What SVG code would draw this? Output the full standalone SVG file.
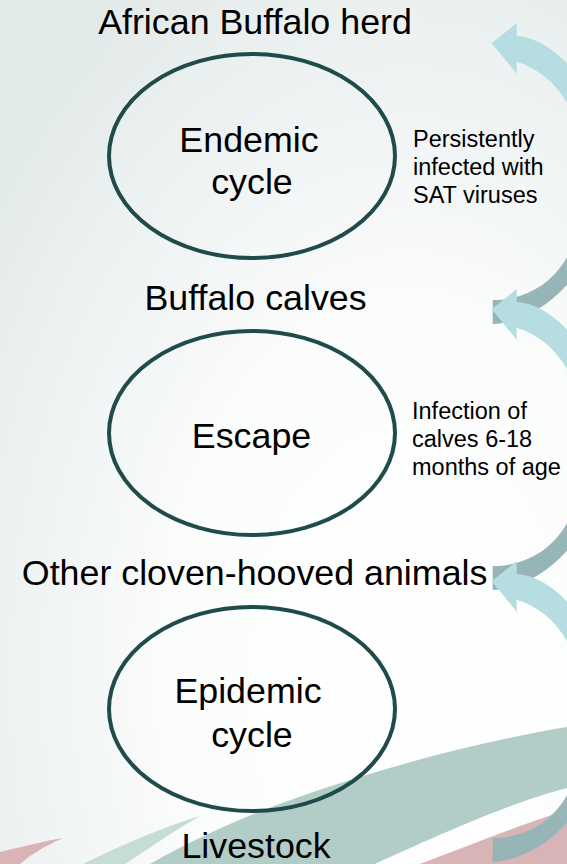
<svg xmlns="http://www.w3.org/2000/svg" width="567" height="864" viewBox="0 0 567 864">
  <defs>
    <radialGradient id="bg" cx="0.72" cy="0.78" r="0.95" fx="0.72" fy="0.78">
      <stop offset="0" stop-color="#ffffff"/>
      <stop offset="0.45" stop-color="#fbfcfc"/>
      <stop offset="1" stop-color="#e2e9e9"/>
    </radialGradient>
    <linearGradient id="arrowGrad" gradientUnits="userSpaceOnUse" x1="0" y1="24" x2="0" y2="324">
      <stop offset="0" stop-color="#b6dee2"/>
      <stop offset="0.45" stop-color="#b6dee2"/>
      <stop offset="0.75" stop-color="#98b7b9"/>
      <stop offset="1" stop-color="#96b4b6"/>
    </linearGradient>
    <path id="curvedArrow" d="M491.7,43.3 L516.7,23 L516.7,36 C560,38 614,105 608,180 C600,280 535,322 492.7,324 L492.7,300 C545,300 585,260 585,178 C585,120 560,75 516.7,61.7 L516.7,73.7 Z"/>
  </defs>
  <style>
    .big { font-family: "Liberation Sans", Arial, sans-serif; font-size: 35.8px; fill: #000; text-anchor: middle; }
    .small { font-family: "Liberation Sans", Arial, sans-serif; font-size: 23.5px; fill: #000; }
    .cycleShape { fill: none; stroke: #1f4b4b; stroke-width: 4; }
    .arrow { fill: url(#arrowGrad); }
  </style>

  <!-- background -->
  <rect x="0" y="0" width="567" height="864" fill="url(#bg)"/>

  <!-- decorative swooshes -->
  <g id="swooshes">
    <path d="M0,852 C25,846 45,841 63,838 C45,846 30,855 20,864 L0,864 Z" fill="#d8b4b7"/>
    <path d="M83,864 C120,846 160,828 200,816 C175,830 150,848 125,864 Z" fill="#c6dcd7"/>
    <path d="M150,864 C210,830 270,805 350,780 C420,758 490,740 567,727 L567,788 C520,800 460,825 375,864 Z" fill="#b2cdc8"/>
    <path d="M420,864 C470,845 520,825 567,810 L567,864 Z" fill="#d8b4b7"/>
  </g>

  <!-- connectors: curved arrows -->
  <g id="connectors">
    <use href="#curvedArrow" class="arrow"/>
    <use href="#curvedArrow" class="arrow" transform="translate(0,266)"/>
    <use href="#curvedArrow" class="arrow" transform="translate(0,538)"/>
  </g>

  <g id="label-herd">
    <text class="big" x="255" y="34">African Buffalo herd</text>
  </g>
  <g id="node-endemic">
    <ellipse class="cycleShape" cx="252" cy="156" rx="143" ry="102"/>
    <text class="big" x="249" y="151.5">Endemic</text>
    <text class="big" x="252" y="194">cycle</text>
  </g>
  <g id="note-persistent">
    <text class="small" x="413" y="147">Persistently</text>
    <text class="small" x="413" y="175">infected with</text>
    <text class="small" x="413" y="203">SAT viruses</text>
  </g>
  <g id="label-calves">
    <text class="big" x="255.5" y="310">Buffalo calves</text>
  </g>
  <g id="node-escape">
    <ellipse class="cycleShape" cx="252" cy="433" rx="143" ry="102"/>
    <text class="big" x="251.5" y="448">Escape</text>
  </g>
  <g id="note-infection">
    <text class="small" x="412" y="419">Infection of</text>
    <text class="small" x="412" y="447">calves 6-18</text>
    <text class="small" x="412" y="475">months of age</text>
  </g>
  <g id="label-cloven">
    <text class="big" x="254.6" y="585">Other cloven-hooved animals</text>
  </g>
  <g id="node-epidemic">
    <ellipse class="cycleShape" cx="252" cy="709" rx="143" ry="102"/>
    <text class="big" x="248" y="702.5">Epidemic</text>
    <text class="big" x="252" y="746.5">cycle</text>
  </g>
  <g id="label-livestock">
    <text class="big" x="256" y="858">Livestock</text>
  </g>
</svg>
